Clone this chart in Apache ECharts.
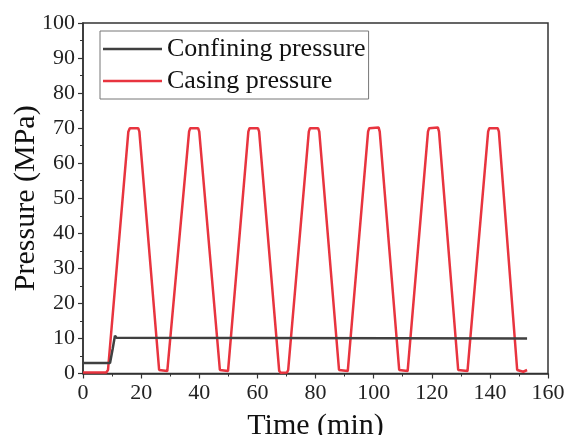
<!DOCTYPE html>
<html><head><meta charset="utf-8">
<script src="https://cdn.jsdelivr.net/npm/echarts@6/dist/echarts.min.js"></script>
<style>html,body{margin:0;padding:0;background:#fff}#c{width:567px;height:435px}</style>
</head><body><div id="c"></div>
<script>
const seriesNames = ['Confining pressure', 'Casing pressure'];
const xTicks = [0, 20, 40, 60, 80, 100, 120, 140, 160];
const yTicks = [0, 10, 20, 30, 40, 50, 60, 70, 80, 90, 100];

const confiningTime  = [0, 9.3, 10.2, 11.0, 11.5, 12.0, 152.8];
const confiningValue = [3, 3, 7, 10.8, 10.2, 10, 10];

const casingTime = [0, 8, 8.6, 15.6, 16.1, 19, 19.4, 26.2, 26.7, 29, 29.4, 36.5, 36.9, 39.6, 40, 47.1, 47.5, 49.9, 50.3, 56.9, 57.3, 60.2, 60.6, 67.5, 68, 70.2, 70.6, 77.7, 78.1, 80.9, 81.3, 88.1, 88.5, 91.1, 91.5, 98.1, 98.5, 101.7, 102.1, 108.8, 109.2, 111.7, 112.1, 118.7, 119.1, 122.1, 122.5, 129.1, 129.5, 132.3, 132.7, 139.4, 139.8, 142.7, 143.1, 149.4, 149.8, 151.5, 152.8];
const casingValue = [0.3, 0.3, 1, 69, 70, 70, 69, 1, 0.7, 0.7, 1.2, 69, 70, 70, 69, 1, 0.7, 0.7, 1.2, 69, 70, 70, 69, 0.8, 0.2, 0.3, 1, 69, 70, 70, 69, 1, 0.7, 0.7, 1.2, 69, 70, 70.2, 69, 1, 0.7, 0.7, 1.2, 69, 70, 70.2, 69, 1, 0.7, 0.7, 1.2, 69, 70, 70, 69, 1, 0.5, 0.5, 1];

const zip = (a, b) => a.map((v, i) => [v, b[i]]);
const font = 'Liberation Serif';
const axisColor = '#333';
const chart = echarts.init(document.getElementById('c'), null, {renderer: 'canvas'});
chart.setOption({
  backgroundColor: '#fff',
  animation: false,
  grid: {left: 83, right: 19, top: 23, bottom: 61.5, containLabel: false, outerBoundsMode: 'none',
         show: true, borderColor: axisColor, borderWidth: 1.5, backgroundColor: 'transparent'},
  legend: {
    left: 100, top: 31, orient: 'vertical',
    data: seriesNames,
    icon: 'rect',
    itemWidth: 59, itemHeight: 2.5, itemGap: 6,
    padding: [5, 3, 5, 3],
    borderColor: '#777', borderWidth: 1,
    textStyle: {fontFamily: font, fontSize: 26, color: '#111'}
  },
  xAxis: {
    type: 'value', min: xTicks[0], max: xTicks[xTicks.length - 1], interval: 20,
    name: 'Time (min)', nameLocation: 'middle', nameGap: 38, nameMoveOverlap: false,
    nameTextStyle: {fontFamily: font, fontSize: 30, color: '#111'},
    axisLine: {show: true, lineStyle: {color: axisColor, width: 1.5}},
    axisTick: {show: true, length: 5, lineStyle: {color: axisColor, width: 1.2}},
    minorTick: {show: true, splitNumber: 2, length: 3, lineStyle: {color: axisColor, width: 1}},
    axisLabel: {fontFamily: font, fontSize: 22, color: '#222', margin: 9},
    splitLine: {show: false}
  },
  yAxis: {
    type: 'value', min: yTicks[0], max: yTicks[yTicks.length - 1], interval: 10,
    name: 'Pressure (MPa)', nameLocation: 'middle', nameGap: 42, nameMoveOverlap: false,
    nameTextStyle: {fontFamily: font, fontSize: 30, color: '#111'},
    axisLine: {show: true, lineStyle: {color: axisColor, width: 1.5}},
    axisTick: {show: true, length: 5, lineStyle: {color: axisColor, width: 1.2}},
    minorTick: {show: true, splitNumber: 2, length: 3, lineStyle: {color: axisColor, width: 1}},
    axisLabel: {fontFamily: font, fontSize: 22, color: '#222', margin: 8},
    splitLine: {show: false}
  },
  series: [
    {name: seriesNames[0], type: 'line', symbol: 'none', data: zip(confiningTime, confiningValue),
     lineStyle: {color: '#404040', width: 2.5}, itemStyle: {color: '#404040'}, z: 3},
    {name: seriesNames[1], type: 'line', symbol: 'none', data: zip(casingTime, casingValue),
     lineStyle: {color: '#e8343f', width: 2.5}, itemStyle: {color: '#e8343f'}, z: 2}
  ]
});
</script></body></html>
